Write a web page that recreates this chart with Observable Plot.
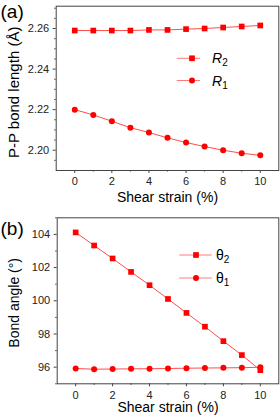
<!DOCTYPE html>
<html><head><meta charset="utf-8">
<script src="https://cdn.jsdelivr.net/npm/d3@7"></script>
<script src="https://cdn.jsdelivr.net/npm/@observablehq/plot@0.6"></script>
<style>
body{margin:0;background:#fff;}
#wrap{position:relative;width:280px;height:418px;font-family:"Liberation Sans",Arial,sans-serif;overflow:hidden;}
.panel{position:absolute;left:0;width:280px;}
.panel svg{display:block;}
.overlay{position:absolute;left:0;top:0;pointer-events:none;}
</style></head><body><div id="wrap"></div>
<script>
// ---- data ----
const strain = [0, 1, 2, 3, 4, 5, 6, 7, 8, 9, 10];
const R2 = [2.2590, 2.2590, 2.2590, 2.2590, 2.2593, 2.2593, 2.2597, 2.2600, 2.2605, 2.2610, 2.2615];
const R1 = [2.2200, 2.2174, 2.2143, 2.2111, 2.2087, 2.2061, 2.2038, 2.2018, 2.2000, 2.1985, 2.1975];
const theta2 = [104.12, 103.33, 102.55, 101.74, 100.94, 100.11, 99.27, 98.44, 97.57, 96.73, 95.82];
const theta1 = [95.92, 95.88, 95.89, 95.90, 95.91, 95.92, 95.94, 95.95, 95.96, 95.97, 96.00];
const xTicks = [0, 2, 4, 6, 8, 10];
const xMinor = [1, 3, 5, 7, 9];
const yTicksA = [2.20, 2.22, 2.24, 2.26];
const yMinorA = [2.195, 2.205, 2.21, 2.215, 2.225, 2.23, 2.235, 2.245, 2.25, 2.255, 2.265, 2.27];
const yTicksB = [96, 98, 100, 102, 104];
const yMinorB = [95, 97, 99, 101, 103, 105];
const legendA = [{name: "R", sub: "2", symbol: "square", italic: true}, {name: "R", sub: "1", symbol: "circle", italic: true}];
const legendB = [{name: "θ", sub: "2", symbol: "square", italic: false}, {name: "θ", sub: "1", symbol: "circle", italic: false}];

const RED = "#ff0000", LINE = "#ff4d4d", LEGLINE = "#ff7a7a";
const FONT = "Liberation Sans, Arial, sans-serif";

function seriesMarks(vals, symbol) {
  const data = vals.map((v, i) => ({x: strain[i], y: v}));
  return [
    Plot.line(data, {x: "x", y: "y", stroke: LINE, strokeWidth: 1}),
    Plot.dot(data, {x: "x", y: "y", symbol, fill: RED, stroke: "none", r: symbol === "square" ? 3.2 : 3})
  ];
}

function panel(o) {
  const plot = Plot.plot({
    width: 280, height: o.height,
    marginTop: o.mt, marginLeft: o.ml, marginRight: 1.7, marginBottom: o.mb,
    style: {fontFamily: FONT, fontSize: "11px", color: "#222", background: "#fff"},
    x: {domain: [-1, 11]},
    y: {domain: o.ydomain},
    marks: [
      Plot.axisX({ticks: xTicks, tickSize: 3, tickPadding: 4, label: null, stroke: "#444"}),
      Plot.axisX({ticks: xMinor, tickSize: 1.5, tickFormat: () => "", label: null, stroke: "#444"}),
      Plot.axisY({ticks: o.yticks, tickSize: 3, tickPadding: 4, label: null, tickFormat: o.fmt, stroke: "#444"}),
      Plot.axisY({ticks: o.yminor, tickSize: 1.5, tickFormat: () => "", label: null, stroke: "#444"}),
      Plot.frame({stroke: "#444", strokeWidth: 1}),
      ...seriesMarks(o.s2, "square"),
      ...seriesMarks(o.s1, "circle"),
      Plot.text([o.letter], {frameAnchor: "top-left", dx: -o.ml, dy: o.letterDy, textAnchor: "start", lineAnchor: "bottom", fontSize: 19, fill: "#000"}),
      Plot.text([o.ylabel], {frameAnchor: "left", rotate: -90, dx: o.ylabelDx, dy: o.ylabelDy, textAnchor: "middle", lineAnchor: "bottom", fontSize: o.ylabelSize, fill: "#000"}),
      Plot.text(["Shear strain (%)"], {frameAnchor: "bottom", dy: o.xlabelDy, textAnchor: "middle", lineAnchor: "bottom", fontSize: 14, fill: "#000"})
    ]
  });
  const div = document.createElement("div");
  div.className = "panel";
  div.style.top = o.top + "px";
  div.style.height = o.height + "px";
  div.appendChild(plot);
  // legend overlay
  const svg = d3.select(div).append("svg").attr("class", "overlay")
    .attr("width", 280).attr("height", o.height);
  o.legend.forEach((d, i) => {
    const cy = o.leg.y[i];
    const g = svg.append("g");
    g.append("line").attr("x1", o.leg.x1).attr("x2", o.leg.x2).attr("y1", cy).attr("y2", cy)
      .attr("stroke", LEGLINE).attr("stroke-width", 1);
    if (d.symbol === "square") {
      g.append("rect").attr("x", o.leg.mx - 2.85).attr("y", cy - 2.85).attr("width", 5.7).attr("height", 5.7).attr("fill", RED);
    } else {
      g.append("circle").attr("cx", o.leg.mx).attr("cy", cy).attr("r", 3).attr("fill", RED);
    }
    const t = g.append("text").attr("x", o.leg.tx).attr("y", cy + 5)
      .attr("font-family", FONT).attr("font-size", 14).attr("fill", "#000");
    t.append("tspan").attr("font-style", d.italic ? "italic" : "normal").text(d.name);
    t.append("tspan").attr("font-size", 10).attr("dy", 3).text(d.sub);
  });
  document.getElementById("wrap").appendChild(div);
}

panel({
  top: 0, height: 205, mt: 5.7, ml: 55.7, mb: 35,
  ydomain: [2.19, 2.271], yticks: yTicksA, yminor: yMinorA, fmt: d3.format(".2f"),
  s2: R2, s1: R1, letter: "(a)", letterDy: 12,
  ylabel: "P-P bond length (Å)", ylabelDx: -37, ylabelDy: 4, ylabelSize: 15,
  xlabelDy: 31,
  legend: legendA, leg: {x1: 176.7, x2: 200, mx: 192, tx: 212, y: [58.3, 80.5]}
});
panel({
  top: 205, height: 213, mt: 12.3, ml: 56.7, mb: 34.7,
  ydomain: [95, 105], yticks: yTicksB, yminor: yMinorB, fmt: d3.format("d"),
  s2: theta2, s1: theta1, letter: "(b)", letterDy: 16.7,
  ylabel: "Bond angle (°)", ylabelDx: -38, ylabelDy: 2, ylabelSize: 14,
  xlabelDy: 28.5,
  legend: legendB, leg: {x1: 179.3, x2: 211.7, mx: 196, tx: 216, y: [50, 73]}
});
</script></body></html>
